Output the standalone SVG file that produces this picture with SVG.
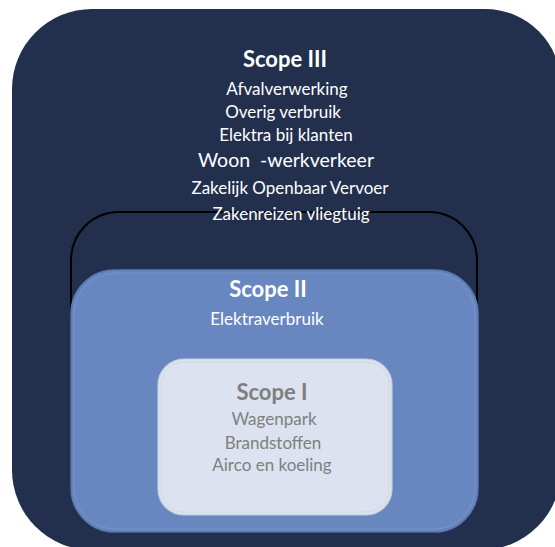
<svg xmlns="http://www.w3.org/2000/svg" width="555" height="547" viewBox="0 0 555 547">
  <style>
    .t { font-family: Lato, "Open Sans", "Liberation Sans", sans-serif; text-anchor: middle; }
    .title { font-size: 22px; font-weight: bold; }
    .item { font-size: 17px; }
    .light { fill: #ffffff; }
    .grey { fill: #7f7f7f; }
  </style>
  <rect width="555" height="547" fill="#ffffff"/>

  <!-- Scope III: outer dark rounded panel -->
  <g id="scope3">
    <path d="M 92 9 L 485 9 A 76 76 0 0 1 561 85 L 561 470 A 80 80 0 0 1 481 550 L 92 550 A 80 80 0 0 1 12 470 L 12 89 A 80 80 0 0 1 92 9 Z" fill="#22304d"/>
    <text class="t title light" x="285" y="67">Scope III</text>
    <text class="t item light" x="287" y="95">Afvalverwerking</text>
    <text class="t item light" x="283" y="118">Overig verbruik</text>
    <text class="t item light" x="286" y="141">Elektra bij klanten</text>
    <text class="t light" style="font-size:19.5px" x="286" y="167" xml:space="preserve">Woon  -werkverkeer</text>
    <text class="t item light" x="290" y="194">Zakelijk Openbaar Vervoer</text>
  </g>

  <!-- black outline frame around the inner scopes -->
  <g id="frame">
    <rect x="71" y="212" width="406" height="320" rx="48" ry="48" fill="none" stroke="#000000" stroke-width="2"/>
  </g>

  <g id="scope3-last">
    <text class="t item light" x="291" y="220">Zakenreizen vliegtuig</text>
  </g>

  <!-- Scope II -->
  <g id="scope2">
    <rect x="71" y="270" width="407" height="262" rx="44" ry="44" fill="#6887c0" stroke="#5b79b2" stroke-width="1.5"/>
    <rect x="74" y="273" width="401" height="256" rx="41" ry="41" fill="none" stroke="#7794c8" stroke-width="1"/>
    <text class="t title light" x="268" y="297">Scope II</text>
    <text class="t item light" x="267" y="325">Elektraverbruik</text>
  </g>

  <!-- Scope I -->
  <g id="scope1">
    <rect x="158" y="359" width="234" height="156" rx="26" ry="26" fill="#dce2ef" stroke="#c9cfdc" stroke-width="1.2"/>
    <rect x="161" y="362" width="228" height="150" rx="23" ry="23" fill="none" stroke="#d2d8e4" stroke-width="1"/>
    <text class="t title grey" x="272" y="400">Scope I</text>
    <text class="t item grey" x="274" y="425">Wagenpark</text>
    <text class="t item grey" x="273" y="449">Brandstoffen</text>
    <text class="t item grey" x="272" y="471">Airco en koeling</text>
  </g>
</svg>
